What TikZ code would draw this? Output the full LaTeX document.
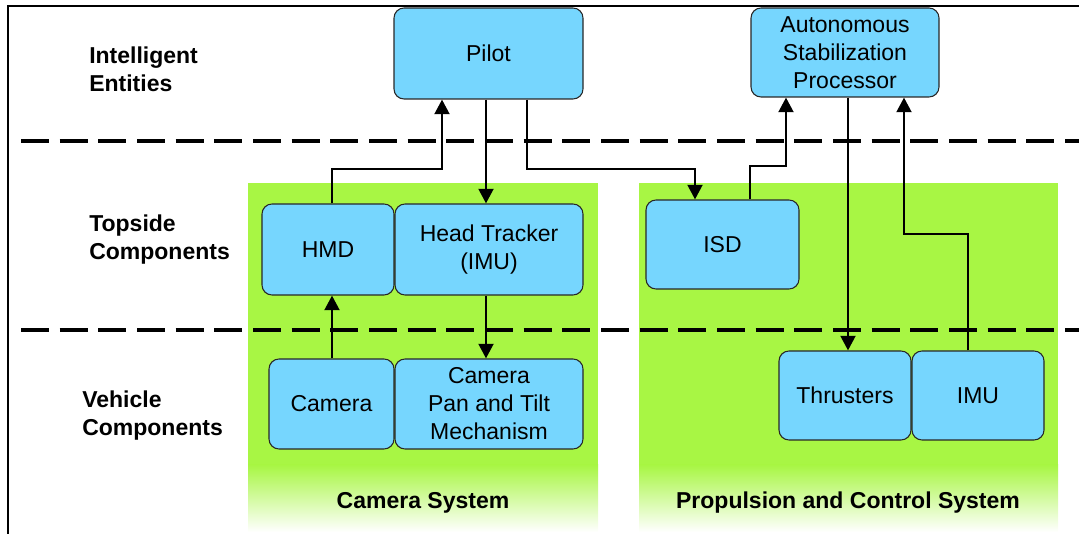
\documentclass[tikz,border=0pt]{standalone}
\usepackage{fontspec}
\setmainfont{Liberation Sans}
\usetikzlibrary{arrows.meta,calc}
\definecolor{panelgreen}{RGB}{168,246,68}
\definecolor{boxblue}{RGB}{118,214,254}
\definecolor{boxline}{RGB}{40,40,40}
\begin{document}
\begin{tikzpicture}[x=0.75pt,y=-0.75pt,
  box/.style={draw=boxline,line width=0.8pt,fill=boxblue,rounded corners=7.5pt,
    inner sep=0pt,align=center,font=\fontsize{17.25}{21}\selectfont},
  boxsize/.style 2 args={minimum width=#1,minimum height=#2},
  layer/.style={anchor=west,align=left,inner sep=0pt,font=\fontsize{17.25}{21}\selectfont\bfseries},
  syslabel/.style={inner sep=0pt,font=\fontsize{17.25}{21}\selectfont\bfseries},
  divider/.style={line width=3pt,dash pattern=on 21pt off 8pt},
  arr/.style={line width=2.2pt,-{Triangle[length=11pt,width=11pt]}}]
\useasboundingbox (0,0) rectangle (1079,534);

% subsystem panels, fading to white at the bottom
\fill[panelgreen] (248,183) rectangle (598,466);
\shade[top color=panelgreen,bottom color=white] (248,465) rectangle (598,532);
\fill[panelgreen] (639,183) rectangle (1058,466);
\shade[top color=panelgreen,bottom color=white] (639,465) rectangle (1058,532);

% frame
\draw[line width=1.6pt] (8,534) -- (8,6) -- (1079,6);

% layer dividers
\draw[divider] (21,141) -- (1079,141);
\draw[divider] (21,330) -- (1079,330);

% layer names
\node[layer] (lint) at (89,69) {Intelligent\\Entities};
\node[layer] (ltop) at (89,240) {Topside\\Components};
\node[layer] (lveh) at (82,416) {Vehicle\\Components};

% components
\node[box,boxsize={141.75pt}{68.25pt}] (pilot) at (488.5,53.5) {Pilot};
\node[box,boxsize={141pt}{66.75pt}] (asp) at (845,52.5) {Autonomous\\Stabilization\\Processor};
\node[box,boxsize={99pt}{68.25pt}] (hmd) at (328,249.5) {HMD};
\node[box,boxsize={141pt}{68.25pt}] (tracker) at (489,249.5) {Head Tracker\\(IMU)};
\node[box,boxsize={93.75pt}{67.5pt}] (camera) at (331.5,404) {Camera};
\node[box,boxsize={141pt}{67.5pt}] (pantilt) at (489,404) {Camera\\Pan and Tilt\\Mechanism};
\node[box,boxsize={114.75pt}{66.75pt}] (isd) at (722.5,244.5) {ISD};
\node[box,boxsize={99pt}{66.75pt}] (thrusters) at (845,395.5) {Thrusters};
\node[box,boxsize={99pt}{66.75pt}] (imu) at (978,395.5) {IMU};

% system names
\node[syslabel] (camsys) at (423,503) {Camera System};
\node[syslabel] (propsys) at (848,503) {Propulsion and Control System};

% signal flow
\draw[arr] (hmd.north -| 332,0) |- (442,169) -- (pilot.south -| 442,0);
\draw[arr] (pilot.south -| 486,0) -- (tracker.north -| 486,0);
\draw[arr] (pilot.south -| 527,0) |- (695,169) -- (isd.north -| 695,0);
\draw[arr] (isd.north -| 750,0) |- (786,166) -- (asp.south -| 786,0);
\draw[arr] (asp.south -| 848,0) -- (thrusters.north -| 848,0);
\draw[arr] (imu.north -| 968,0) |- (904,234) -- (asp.south -| 904,0);
\draw[arr] (tracker.south -| 486,0) -- (pantilt.north -| 486,0);
\draw[arr] (camera.north -| 332,0) -- (hmd.south -| 332,0);
\end{tikzpicture}
\end{document}
